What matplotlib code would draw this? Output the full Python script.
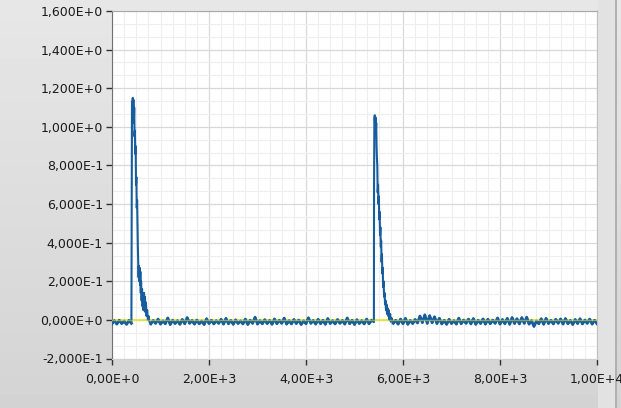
import numpy as np
import matplotlib.pyplot as plt
from matplotlib.patches import Rectangle
from matplotlib.ticker import FixedLocator, MultipleLocator

# baseline noise, sampled every 50 points
base_a = [-0.020, -0.004, -0.022, -0.002, -0.019, -0.006, -0.023, -0.003, -0.018]
base_b = [-0.021, -0.003, -0.018, 0.004, -0.022, -0.005, -0.020, 0.010, -0.024, -0.002,
          -0.019, -0.004, -0.023, 0.002, -0.020, 0.012, -0.018, -0.003, -0.022, -0.001,
          -0.020, -0.006, -0.024, 0.006, -0.019, -0.002, -0.021, -0.004, -0.018, 0.003,
          -0.022, 0.008, -0.020, -0.003, -0.023, 0.000, -0.019, -0.005, -0.021, 0.004,
          -0.024, -0.002, -0.018, 0.014, -0.022, -0.004, -0.020, 0.001, -0.019, -0.003,
          -0.023, 0.005, -0.020, -0.002, -0.018, 0.009, -0.022, -0.004, -0.021, 0.002,
          -0.019, -0.001, -0.024, -0.005, -0.020, 0.011, -0.018, -0.003, -0.022, 0.003,
          -0.020, -0.002, -0.023, 0.007, -0.019, -0.004, -0.021, 0.002, -0.018, -0.003,
          -0.022, 0.010, -0.020, -0.002, -0.024, 0.001, -0.019, -0.004, -0.021, 0.004,
          -0.020, -0.003]
base_c = [-0.018, -0.002, -0.022, 0.004, -0.020, 0.008, -0.023, -0.003, -0.019, 0.002,
          -0.016, 0.020, -0.014, 0.026, -0.018, 0.022, -0.015, 0.016, -0.019, 0.008,
          -0.021, -0.002, -0.023, 0.003, -0.019, -0.004, -0.022, 0.009, -0.020, -0.001,
          -0.018, 0.004, -0.021, 0.007, -0.023, -0.002, -0.019, 0.005, -0.022, 0.003,
          -0.020, -0.001, -0.018, 0.010, -0.022, 0.002, -0.020, 0.008, -0.023, 0.012,
          -0.019, 0.006, -0.021, 0.012, -0.018, 0.014, -0.022, -0.004, -0.034, -0.006,
          -0.020, 0.006, -0.023, 0.008, -0.019, -0.002, -0.021, 0.003, -0.018, 0.005,
          -0.022, 0.007, -0.020, -0.003, -0.024, 0.002, -0.019, 0.006, -0.021, -0.001,
          -0.018, 0.004, -0.022, -0.002, -0.020]

# first pulse
peak1_x = [405, 412, 420, 428, 435, 442, 450, 458, 465, 472, 480, 488, 495, 503, 510,
           518, 525, 533, 540, 548, 555, 563, 570, 578, 585, 593, 600, 610, 620, 630,
           640, 650, 660, 670, 680, 690, 700, 712, 725, 740, 755, 770]
peak1_y = [0.55, 1.13, 1.08, 1.15, 1.10, 1.14, 1.02, 1.10, 0.95, 0.98, 0.86, 0.90, 0.70,
           0.74, 0.58, 0.62, 0.50, 0.38, 0.30, 0.22, 0.28, 0.20, 0.27, 0.18, 0.25, 0.14,
           0.20, 0.10, 0.16, 0.07, 0.12, 0.05, 0.14, 0.06, 0.12, 0.04, 0.09, 0.02, 0.05,
           0.00, 0.02, -0.008]

# second pulse
peak2_x = [5400, 5403, 5410, 5418, 5425, 5432, 5440, 5448, 5455, 5462, 5470, 5478, 5486,
           5494, 5502, 5510, 5518, 5526, 5534, 5542, 5550, 5558, 5566, 5574, 5582, 5590,
           5600, 5610, 5620, 5630, 5640, 5650, 5660, 5672, 5684, 5696, 5708, 5720, 5735,
           5750, 5765]
peak2_y = [-0.012, 0.70, 1.04, 1.06, 1.00, 1.05, 0.98, 1.02, 0.90, 0.84, 0.80, 0.66, 0.70,
           0.60, 0.64, 0.52, 0.56, 0.44, 0.48, 0.38, 0.41, 0.30, 0.34, 0.24, 0.27, 0.17,
           0.20, 0.12, 0.14, 0.08, 0.10, 0.05, 0.08, 0.03, 0.06, 0.02, 0.05, 0.00, 0.03,
           -0.01, 0.01]

threshold = 0.002

x_ticks = [0, 2000, 4000, 6000, 8000, 10000]
x_labels = ['0,00E+0', '2,00E+3', '4,00E+3', '6,00E+3', '8,00E+3', '1,00E+4']
y_ticks = [-0.2, 0, 0.2, 0.4, 0.6, 0.8, 1.0, 1.2, 1.4, 1.6]
y_labels = ['-2,000E-1', '0,000E+0', '2,000E-1', '4,000E-1', '6,000E-1', '8,000E-1',
            '1,000E+0', '1,200E+0', '1,400E+0', '1,600E+0']

xa = np.arange(0, 401, 50)
xb = np.arange(800, 5351, 50)
xc = np.arange(5800, 10001, 50)
x = np.concatenate([xa, peak1_x, xb, peak2_x, xc])
y = np.concatenate([base_a, peak1_y, base_b, peak2_y, base_c])

plt.rcParams['font.family'] = ['DejaVu Sans']
fig = plt.figure(figsize=(6.21, 4.08), dpi=100, facecolor='#d8d8d8')

# soft vertical shading of the panel
bg = fig.add_axes([0, 0, 1, 1], zorder=-2)
bg.imshow(np.linspace(0.905, 0.83, 64).reshape(-1, 1), cmap='gray', vmin=0, vmax=1,
          aspect='auto', extent=[0, 1, 0, 1])
bg.axis('off')

# light strip on the right edge
fig.patches.append(Rectangle((598 / 621, 0), 17 / 621, 1, transform=fig.transFigure,
                             facecolor='#e2e2e2', edgecolor='none', zorder=-1))
fig.patches.append(Rectangle((615 / 621, 0), 1.5 / 621, 1, transform=fig.transFigure,
                             facecolor='#b0b0b0', edgecolor='none', zorder=-1))

ax = fig.add_axes([112 / 621, 1 - 358.5 / 408, 485 / 621, 347.5 / 408])
ax.set_facecolor('white')

ax.axhline(threshold, color='#e6e84c', lw=1.5, zorder=2)
ax.plot(x, y, color='#175d9e', lw=1.5, zorder=3)
# the flat parts look like a thick noisy band
for bx, by in [(xa, base_a), (xb, base_b), (xc, base_c)]:
    ax.plot(bx, by, color='#175d9e', lw=2.0, zorder=3)
ax.axhline(threshold, color='#d8e050', lw=1.0, alpha=0.55, zorder=4)

ax.set_xlim(0, 10000)
ax.set_ylim(-0.2, 1.6)
ax.xaxis.set_major_locator(FixedLocator(x_ticks))
ax.set_xticklabels(x_labels)
ax.yaxis.set_major_locator(FixedLocator(y_ticks))
ax.set_yticklabels(y_labels)
ax.xaxis.set_minor_locator(MultipleLocator(250))
ax.yaxis.set_minor_locator(MultipleLocator(0.2 / 3))

ax.grid(which='major', color='#d8d8d8', lw=0.9, zorder=0)
ax.grid(which='minor', color='#eeeeee', lw=0.8, zorder=0)
ax.set_axisbelow(True)

ax.tick_params(which='major', direction='out', length=4.5, width=1, color='#303030',
               labelsize=9, labelcolor='#1a1a1a')
ax.tick_params(axis='y', pad=2)
ax.tick_params(axis='x', pad=6)
ax.tick_params(which='minor', length=0)

ax.spines['left'].set_color('#707070')
ax.spines['top'].set_color('#a8a8a8')
ax.spines['right'].set_color('#c0c0c0')
ax.spines['bottom'].set_color('#d0d0d0')

plt.savefig('out.png', dpi=100)
